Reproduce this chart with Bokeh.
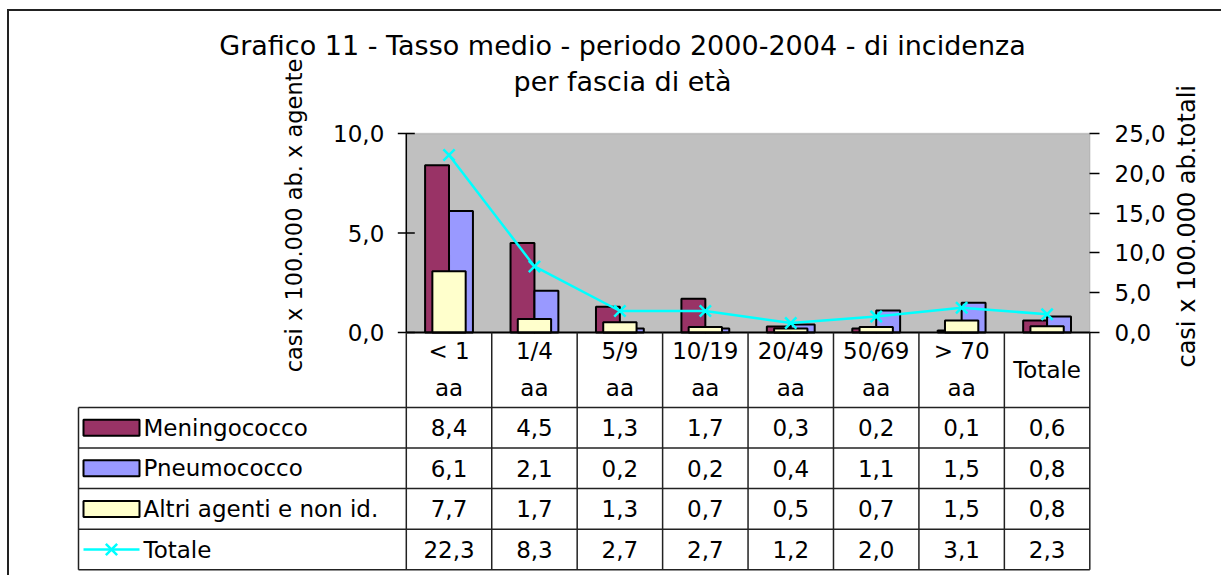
import math
import json
from bokeh.plotting import figure
from bokeh.models import (Range1d, LinearAxis, FixedTicker, BoxAnnotation,
                          ColumnDataSource, CustomJSTickFormatter)
from bokeh.layouts import column
from bokeh.embed import file_html
from bokeh.resources import INLINE
from bokeh.core.properties import value

# ---------------- data ----------------
categories = ["< 1\naa", "1/4\naa", "5/9\naa", "10/19\naa", "20/49\naa",
              "50/69\naa", "> 70\naa", "Totale"]
meningococco = [8.4, 4.5, 1.3, 1.7, 0.3, 0.2, 0.1, 0.6]
pneumococco = [6.1, 2.1, 0.2, 0.2, 0.4, 1.1, 1.5, 0.8]
altri = [7.7, 1.7, 1.3, 0.7, 0.5, 0.7, 1.5, 0.8]
totale = [22.3, 8.3, 2.7, 2.7, 1.2, 2.0, 3.1, 2.3]
series_names = ["Meningococco", "Pneumococco", "Altri agenti e non id.", "Totale"]
left_ticks = [0, 5, 10]
right_ticks = [0, 5, 10, 15, 20, 25]
title_lines = ["Grafico 11 - Tasso medio - periodo 2000-2004 - di incidenza",
               "per fascia di età"]
left_label = "casi x 100.000 ab. x agente"
right_label = "casi x 100.000 ab.totali"

# ---------------- styles ----------------
FONT = "DejaVu Sans"
FS = "23px"
C_MEN = "#993366"
C_PNE = "#9999FF"
C_ALT = "#FFFFCC"
C_TOT = "#00FFFF"
C_GRID = "#222222"


def fmt(v):
    return f"{v:.1f}".replace(".", ",")


n = len(categories)
idx = list(range(n))
nrows = len(series_names)

# ---------------- geometry (page pixels) ----------------
FIG_X, FIG_Y, FIG_W, FIG_H = 9, 11, 1212, 564
FR_L, FR_R, FR_T, FR_B = 76, 1091, 20, 572
PX_X0, PX_XN = 405.8, 1089.3          # left / right edge of plot area
PLOT_TOP, PLOT_BOT = 133, 332          # top / bottom of plot area
TBL_BOT, ROW_H = 569.3, 40.6           # bottom of table, row height

ux = (PX_XN - PX_X0) / n
uy = (PLOT_BOT - PLOT_TOP) / left_ticks[-1]
ut = (PLOT_BOT - PLOT_TOP) / right_ticks[-1]


def xpx(px):
    return (px - PX_X0) / ux


def ypx(py):
    return (PLOT_BOT - py) / uy


def tpx(py):
    return (TBL_BOT - py) / ROW_H


HEADER_TOP = tpx(PLOT_BOT)
LEG_L = xpx(78)

p = figure(width=FIG_W, height=FIG_H,
           x_range=Range1d(xpx(FR_L), xpx(FR_R)),
           y_range=Range1d(ypx(FR_B), ypx(FR_T)),
           x_axis_type=None, y_axis_type=None,
           output_backend="svg", toolbar_location=None,
           min_border_left=FR_L - FIG_X, min_border_right=FIG_X + FIG_W - FR_R,
           min_border_top=FR_T - FIG_Y, min_border_bottom=FIG_Y + FIG_H - FR_B,
           background_fill_color="white", border_fill_color="white",
           outline_line_color=None)
p.extra_y_ranges = {
    "tot": Range1d((PLOT_BOT - FR_B) / ut, (PLOT_BOT - FR_T) / ut),
    "tbl": Range1d(tpx(FR_B), tpx(FR_T)),
}

# plot area
p.add_layout(BoxAnnotation(left=0, right=n, bottom=0, top=left_ticks[-1],
                           fill_color="#C0C0C0", fill_alpha=1.0,
                           line_color="#808080", line_width=1.5, level="underlay"))

# left axis (drawn at the plot-area edge)
p.segment(x0=[0], y0=[0], x1=[0], y1=[left_ticks[-1]], line_color="black",
          line_width=1.5)
p.scatter(x=[0] * len(left_ticks), y=left_ticks, marker="dash", size=17,
          line_color="black", line_width=1.5)
p.text(x=[0] * len(left_ticks), y=left_ticks, text=[fmt(v) for v in left_ticks],
       x_offset=-22, text_align="right", text_baseline="middle",
       text_font=value(FONT), text_font_size=FS, text_color="black")

# right axis
tick_fmt = CustomJSTickFormatter(code="return tick.toFixed(1).replace('.', ',');")
ry = LinearAxis(y_range_name="tot", ticker=FixedTicker(ticks=right_ticks),
                bounds=(right_ticks[0], right_ticks[-1]),
                formatter=tick_fmt, major_tick_out=8, major_tick_in=2,
                minor_tick_line_color=None, major_label_standoff=15,
                axis_line_color=None, major_tick_line_color="black",
                major_tick_line_width=1.5,
                major_label_text_font=FONT, major_label_text_font_size=FS,
                major_label_text_color="black")
p.add_layout(ry, "right")

# right axis title (rotated, reading upwards)
ry_title = LinearAxis(y_range_name="tot",
                      ticker=FixedTicker(ticks=[(PLOT_BOT - 220) / ut]),
                      formatter=CustomJSTickFormatter(code="return " + json.dumps(right_label) + ";"),
                      major_label_orientation=math.pi / 2,
                      major_tick_out=0, major_tick_in=0, minor_tick_line_color=None,
                      major_tick_line_color=None, axis_line_color=None,
                      major_label_standoff=19,
                      major_label_text_font=FONT, major_label_text_font_size="24px",
                      major_label_text_color="black")
p.add_layout(ry_title, "right")

# bars and line
src = ColumnDataSource(dict(
    x_m=[i + 0.36 for i in idx], x_p=[i + 0.64 for i in idx],
    x_c=[i + 0.5 for i in idx],
    men=meningococco, pne=pneumococco, alt=altri, tot=totale))

p.vbar(x="x_m", top="men", width=0.28, source=src, fill_color=C_MEN,
       line_color="black", line_width=2)
p.vbar(x="x_p", top="pne", width=0.28, source=src, fill_color=C_PNE,
       line_color="black", line_width=2)
p.vbar(x="x_c", top="alt", width=0.39, source=src, fill_color=C_ALT,
       line_color="black", line_width=2, y_range_name="tot")
p.line(x="x_c", y="tot", source=src, line_color=C_TOT, line_width=2.5,
       y_range_name="tot")
p.scatter(x="x_c", y="tot", source=src, marker="x", size=16,
          line_color=C_TOT, line_width=2.5, y_range_name="tot")

# title
p.text(x=[xpx(622)] * 2, y=[ypx(45), ypx(81)], text=title_lines,
       text_align="center", text_baseline="middle",
       text_font=value(FONT), text_font_size="27px", text_color="black")

# left axis title
p.text(x=[xpx(293)], y=[ypx(215)], text=[left_label], angle=math.pi / 2,
       text_align="center", text_baseline="middle",
       text_font=value(FONT), text_font_size="22.5px", text_color="black")

# ---------------- data table ----------------
hy = list(range(nrows + 1))
p.segment(x0=[LEG_L] * len(hy), y0=hy, x1=[n] * len(hy), y1=hy,
          line_color=C_GRID, line_width=1.5, y_range_name="tbl")
p.segment(x0=[0], y0=[HEADER_TOP], x1=[n], y1=[HEADER_TOP], line_color="black",
          line_width=2, y_range_name="tbl")
vx = list(range(n + 1))
p.segment(x0=vx, y0=[0] * len(vx), x1=vx, y1=[HEADER_TOP] * len(vx),
          line_color=C_GRID, line_width=1.5, y_range_name="tbl")
p.segment(x0=[LEG_L], y0=[0], x1=[LEG_L], y1=[nrows], line_color=C_GRID,
          line_width=1.5, y_range_name="tbl")

# header labels
p.text(x=[i + 0.5 for i in idx], y=[(nrows + HEADER_TOP) / 2] * n, text=categories,
       text_align="center", text_baseline="middle", text_line_height=1.42,
       text_font=value(FONT), text_font_size=FS, text_color="black",
       y_range_name="tbl")

# values
all_series = [meningococco, pneumococco, altri, totale]
vx_, vy_, vt_ = [], [], []
for r, ser in enumerate(all_series):
    for i, v in enumerate(ser):
        vx_.append(i + 0.5)
        vy_.append(nrows - r - 0.5)
        vt_.append(fmt(v))
p.text(x=vx_, y=vy_, text=vt_, text_align="center", text_baseline="middle",
       text_font=value(FONT), text_font_size=FS, text_color="black",
       y_range_name="tbl")

# legend keys
row_y = [nrows - r - 0.5 for r in range(nrows)]
p.rect(x=[xpx(111)] * 3, y=row_y[:3], width=56, height=16, width_units="screen",
       height_units="screen", fill_color=[C_MEN, C_PNE, C_ALT],
       line_color="black", line_width=2, y_range_name="tbl")
p.segment(x0=[xpx(83)], y0=[row_y[3]], x1=[xpx(139)], y1=[row_y[3]],
          line_color=C_TOT, line_width=2.5, y_range_name="tbl")
p.scatter(x=[xpx(111)], y=[row_y[3]], marker="x", size=16, line_color=C_TOT,
          line_width=2.5, y_range_name="tbl")
p.text(x=[xpx(143)] * nrows, y=row_y, text=series_names, text_align="left",
       text_baseline="middle", text_font=value(FONT), text_font_size=FS,
       text_color="black", y_range_name="tbl")

layout = column(p, styles={"margin-left": "7px", "margin-top": "9px",
                           "border-top": "2px solid #222222",
                           "border-left": "2px solid #222222"})

open("out.html", "w").write(file_html(layout, INLINE))
